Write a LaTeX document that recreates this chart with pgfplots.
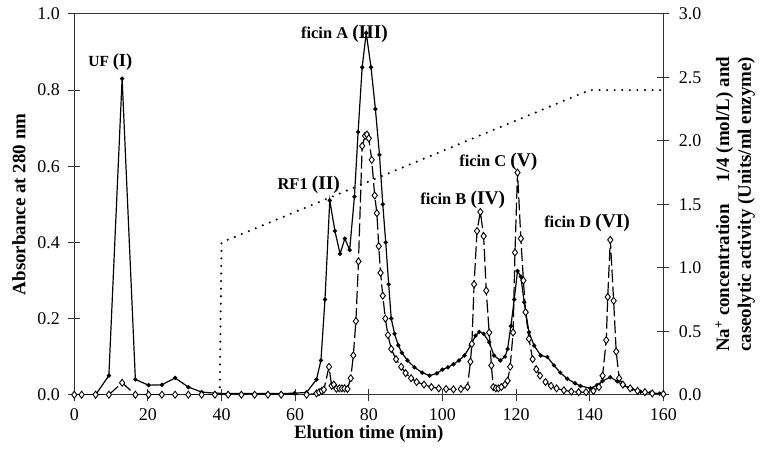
\documentclass[border=0pt]{standalone}
\usepackage{fontspec}
\setmainfont{Liberation Serif}
\usepackage{pgfplots}
\pgfplotsset{compat=1.18}
\newlength\rlw
\begin{document}
\settowidth\rlw{\fontsize{19}{22}\selectfont\bfseries caseolytic activity (Units/ml enzyme)}
\begin{tikzpicture}
\path[use as bounding box] (-72pt,-64pt) rectangle (690pt,396pt);
\pgfplotsset{
  common/.style={
    width=591pt, height=382pt, scale only axis,
    xmin=0, xmax=160,
    tick align=center, major tick length=12pt,
    axis line style={draw=black!80, line width=1.1pt},
    every tick/.style={black!80, line width=1.1pt},
    tick label style={font=\fontsize{18}{20}\selectfont},
    /pgf/number format/assume math mode=true,
  }
}
\begin{axis}[common,
  ymin=0, ymax=1,
  xtick={0,20,...,160}, ytick={0,0.2,0.4,0.6,0.8,1.0},
  xtick pos=bottom, ytick pos=left,
  xticklabel style={yshift=-4.5pt},
  yticklabel style={xshift=-5pt, /pgf/number format/fixed, /pgf/number format/fixed zerofill, /pgf/number format/precision=1},
  xlabel={Elution time (min)},
  xlabel style={font=\fontsize{19}{22}\selectfont\bfseries, at={(axis description cs:0.5,-0.104)}, anchor=center},
  ylabel={Absorbance at 280 nm},
  ylabel style={font=\fontsize{19}{22}\selectfont\bfseries, at={(axis description cs:-0.094,0.5)}, anchor=center},
]
\addplot[black, line width=1.2pt, mark=*, mark size=1.5pt] coordinates {
(0,0)(2,0)(5.8,0)(9.4,0.05)(13,0.83)(16.6,0.04)(20.2,0.025)(23.8,0.026)(27.4,0.044)(31,0.02)(34.6,0.007)(38.2,0.004)(41.8,0.003)(45.4,0.003)(49,0.003)(52.6,0.003)(56.2,0.003)(59.8,0.004)(63.1,0.006)
(65.8,0.04)(67.0,0.09)(68.1,0.25)(69.4,0.51)(70.8,0.43)(72.2,0.37)(73.5,0.41)(74.8,0.38)(76.1,0.52)(77.1,0.69)(78.2,0.86)(79.3,0.95)(80.6,0.86)(81.8,0.75)(82.9,0.63)(83.8,0.50)(84.6,0.40)(85.4,0.29)(86.1,0.20)(87.0,0.16)(88.0,0.13)(89.0,0.11)(90.5,0.09)(92.4,0.072)(94.5,0.058)(96.5,0.05)(98.5,0.056)(100,0.066)(101.5,0.072)(103,0.08)(104.5,0.09)(106,0.103)(107.7,0.13)(109,0.155)(110,0.165)(111.2,0.16)(112.7,0.138)(114,0.103)(115.7,0.09)(117,0.1)(117.7,0.12)(118.6,0.18)(119.5,0.25)(120.4,0.325)(121.3,0.31)(122.2,0.243)(123.5,0.164)(124.9,0.129)(126.7,0.103)(128.5,0.099)(130.3,0.077)(132,0.058)(133.9,0.042)(136,0.03)(137.5,0.023)(140.2,0.017)(142,0.025)(143.5,0.036)(145.6,0.046)(147.5,0.035)(149.2,0.024)(151.5,0.015)(153.8,0.008)(156.5,0.005)(159,0.003)(160,0.002)
};
\node[anchor=base, font=\fontsize{15.5}{18}\selectfont\bfseries] at (axis cs:9.8,0.861) {UF {\fontsize{18.5}{20}\selectfont(I)}};
\node[anchor=base, font=\fontsize{16.5}{18}\selectfont\bfseries] at (axis cs:73.4,0.936) {ficin A {\fontsize{19.5}{20}\selectfont(III)}};
\node[anchor=base, font=\fontsize{16.5}{18}\selectfont\bfseries] at (axis cs:63.7,0.539) {RF1 {\fontsize{19.5}{20}\selectfont(II)}};
\node[anchor=base, font=\fontsize{16.5}{18}\selectfont\bfseries] at (axis cs:105.5,0.5) {ficin B {\fontsize{19.5}{20}\selectfont(IV)}};
\node[anchor=base, font=\fontsize{16.5}{18}\selectfont\bfseries] at (axis cs:115.2,0.599) {ficin C {\fontsize{19.5}{20}\selectfont(V)}};
\node[anchor=base, font=\fontsize{16.5}{18}\selectfont\bfseries] at (axis cs:139.3,0.44) {ficin D {\fontsize{19.5}{20}\selectfont(VI)}};
\end{axis}
\begin{axis}[common,
  ymin=0, ymax=3,
  ytick={0,0.5,...,3},
  axis y line*=right, axis x line=none,
  yticklabel style={xshift=6pt, /pgf/number format/fixed, /pgf/number format/fixed zerofill, /pgf/number format/precision=1},
  ylabel={\makebox[\rlw]{Na\textsuperscript{+} concentration\hfill 1/4 (mol/L) and}\\caseolytic activity (Units/ml enzyme)},
  ylabel style={font=\fontsize{19}{22}\selectfont\bfseries, at={(axis description cs:1.122,0.5)}, anchor=center, align=center},
]
\addplot[black, line width=2.3pt, line cap=round, dash pattern=on 0pt off 7.6pt] coordinates {(39.5,0)(40,1.2)(140,2.4)(160,2.4)};
\addplot[black, line width=1.2pt, dash pattern=on 13pt off 4pt, mark=diamond*, mark size=3.5pt, mark options={solid, fill=white, draw=black, line width=0.9pt}] coordinates {
(0,0)(2,0)(5.8,0)(9.4,0)(13,0.094)(16.6,0)(20.2,0)(23.8,0)(27.4,0)(31,0)(34.6,0)(38.2,0)(41.8,0)(45.4,0)(49,0)(52.6,0)(56.2,0)(63.1,0)
(65.8,0.01)(66.5,0.02)(67.2,0.03)(67.8,0.04)(69.2,0.22)(69.9,0.07)(70.5,0.08)(71.2,0.047)(72,0.05)(72.7,0.05)(73.4,0.05)(74.2,0.045)(75.1,0.13)(75.8,0.31)(76.5,0.58)(77.2,1.05)(78.2,1.96)(79.0,2.04)(79.5,2.05)(80.0,2.02)(80.8,1.85)(81.6,1.57)(82.2,1.43)(82.7,1.17)(83.2,0.96)(83.8,0.78)(84.5,0.6)(85.2,0.47)(86.1,0.36)(87.4,0.28)(88.8,0.22)(90,0.17)(91.5,0.13)(93,0.1)(95,0.08)(97,0.06)(99,0.05)(101,0.045)(103,0.042)(105,0.045)(106.8,0.06)
(107.6,0.26)(108.0,0.40)(108.6,0.87)(109.4,1.29)(110.3,1.44)(111.2,1.25)(111.9,0.82)(112.7,0.49)(113.3,0.23)(113.8,0.06)(114.5,0.05)(115.2,0.05)(116,0.06)(117,0.08)(117.7,0.11)(118.4,0.22)(119.2,0.49)(119.7,1.12)(120.4,1.75)(121.3,1.23)(122.0,0.90)(122.6,0.65)(123.5,0.44)(124.5,0.28)(125.5,0.2)(126.5,0.15)(128,0.1)(129.5,0.07)(131,0.05)(133,0.035)(135,0.025)(137,0.02)(139,0.02)(141,0.03)(142.5,0.06)(143.5,0.15)(144.5,0.43)(144.9,0.77)(145.6,1.22)(146.5,0.74)(147.2,0.34)(148,0.13)(149,0.08)(151,0.05)(153,0.03)(155,0.02)(157,0.01)(160,0.005)
};
\end{axis}
\end{tikzpicture}
\end{document}
